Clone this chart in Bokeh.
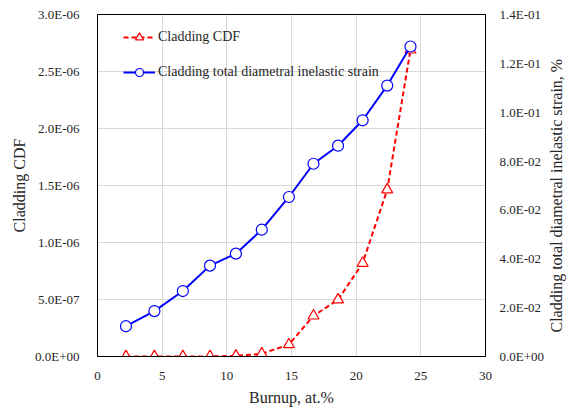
import math
from bokeh.plotting import figure
from bokeh.models import (Range1d, LinearAxis, FixedTicker, CustomJSTickFormatter,
                          Legend, LegendItem, ColumnDataSource)
from bokeh.embed import file_html
from bokeh.resources import INLINE

# Data
burnup = [2.2, 4.4, 6.6, 8.7, 10.7, 12.7, 14.8, 16.7, 18.6, 20.5, 22.4, 24.2]
cladding_cdf = [0.0, 0.0, 0.0, 1e-9, 5e-9, 2.4e-8, 1.05e-7, 3.57e-7, 4.98e-7, 8.19e-7, 1.463e-6, 2.69e-6]
strain = [0.0124, 0.0186, 0.0268, 0.0372, 0.0421, 0.0519, 0.0653, 0.0789, 0.0863, 0.0967, 0.1109, 0.1269]

x_ticks = [0, 5, 10, 15, 20, 25, 30]
left_ticks = [0.0, 5e-7, 1e-6, 1.5e-6, 2e-6, 2.5e-6, 3e-6]
right_ticks = [0.0, 0.02, 0.04, 0.06, 0.08, 0.10, 0.12, 0.14]

FONT = "Liberation Serif"
TXT = "#262626"

fmt_code = """
var s = tick.toExponential(1);
var parts = s.split('e');
var e = parseInt(parts[1]);
var a = Math.abs(e);
var sign = e < 0 ? '-' : '+';
return parts[0] + 'E' + sign + (a < 10 ? '0' : '') + a;
"""

p = figure(width=576, height=408, output_backend="svg", toolbar_location=None,
           x_range=Range1d(0, 30), y_range=Range1d(0, 3e-6),
           min_border_left=97, min_border_right=90, min_border_top=14, min_border_bottom=52)
p.extra_y_ranges = {"strain": Range1d(0, 0.14)}

p.outline_line_color = "black"
p.outline_line_width = 1
p.background_fill_color = "white"
p.border_fill_color = "white"

p.xgrid.ticker = FixedTicker(ticks=x_ticks)
p.ygrid.ticker = FixedTicker(ticks=left_ticks)
p.xgrid.grid_line_color = "#d9d9d9"
p.ygrid.grid_line_color = "#d9d9d9"

def style_axis(ax):
    ax.major_tick_line_color = None
    ax.minor_tick_line_color = None
    ax.axis_line_color = "black"
    ax.major_label_text_font = FONT
    ax.major_label_text_font_size = "13px"
    ax.major_label_text_color = TXT
    ax.axis_label_text_font = FONT
    ax.axis_label_text_font_size = "16px"
    ax.axis_label_text_font_style = "normal"
    ax.axis_label_text_color = TXT

xa = p.xaxis[0]
xa.ticker = FixedTicker(ticks=x_ticks)
xa.axis_label = "Burnup, at.%"
style_axis(xa)
xa.major_label_standoff = 9
xa.axis_label_standoff = 6

ya = p.yaxis[0]
ya.ticker = FixedTicker(ticks=left_ticks)
ya.formatter = CustomJSTickFormatter(code=fmt_code)
ya.axis_label = "Cladding CDF"
style_axis(ya)
ya.major_label_standoff = 12
ya.axis_label_standoff = 4

# right axis with tick labels
ra = LinearAxis(y_range_name="strain", ticker=FixedTicker(ticks=right_ticks),
                formatter=CustomJSTickFormatter(code=fmt_code))
style_axis(ra)
ra.major_label_standoff = 8
p.add_layout(ra, "right")

# second right axis carrying only the title, read bottom-to-top
rt = LinearAxis(y_range_name="strain", ticker=FixedTicker(ticks=[]),
                axis_label="\u00a0" * 6 + "Cladding total diametral inelastic strain, %")
style_axis(rt)
rt.axis_line_color = None
rt.major_label_text_font_size = "0px"
rt.axis_label_standoff = 9
try:
    rt.axis_label_orientation = math.pi / 2
    rt.axis_label_align = "start"
except Exception:
    pass
p.add_layout(rt, "right")

src = ColumnDataSource(dict(x=burnup, cdf=cladding_cdf, strain=strain))

r_line = p.line("x", "cdf", source=src, line_color="#ff0000", line_width=2, line_dash="5 3")
r_tri = p.scatter("x", "cdf", source=src, marker="triangle", size=11,
                  line_color="#ff0000", fill_color="white", line_width=1.2)

b_line = p.line("x", "strain", source=src, y_range_name="strain", line_color="#0000ff", line_width=2)
b_circ = p.scatter("x", "strain", source=src, y_range_name="strain", marker="circle", size=11,
                   line_color="#0000ff", fill_color="white", line_width=1.2)

legend = Legend(items=[
    LegendItem(label="Cladding CDF", renderers=[r_line, r_tri]),
    LegendItem(label="Cladding total diametral inelastic strain", renderers=[b_line, b_circ]),
], location=(26, 274))
legend.border_line_color = None
legend.background_fill_alpha = 0
legend.padding = 0
legend.margin = 0
legend.spacing = 15
legend.glyph_width = 32
legend.glyph_height = 20
legend.label_height = 20
legend.label_standoff = 3
legend.label_text_font = FONT
legend.label_text_font_size = "14px"
legend.label_text_color = TXT
p.add_layout(legend)

open("out.html", "w").write(file_html(p, INLINE))
